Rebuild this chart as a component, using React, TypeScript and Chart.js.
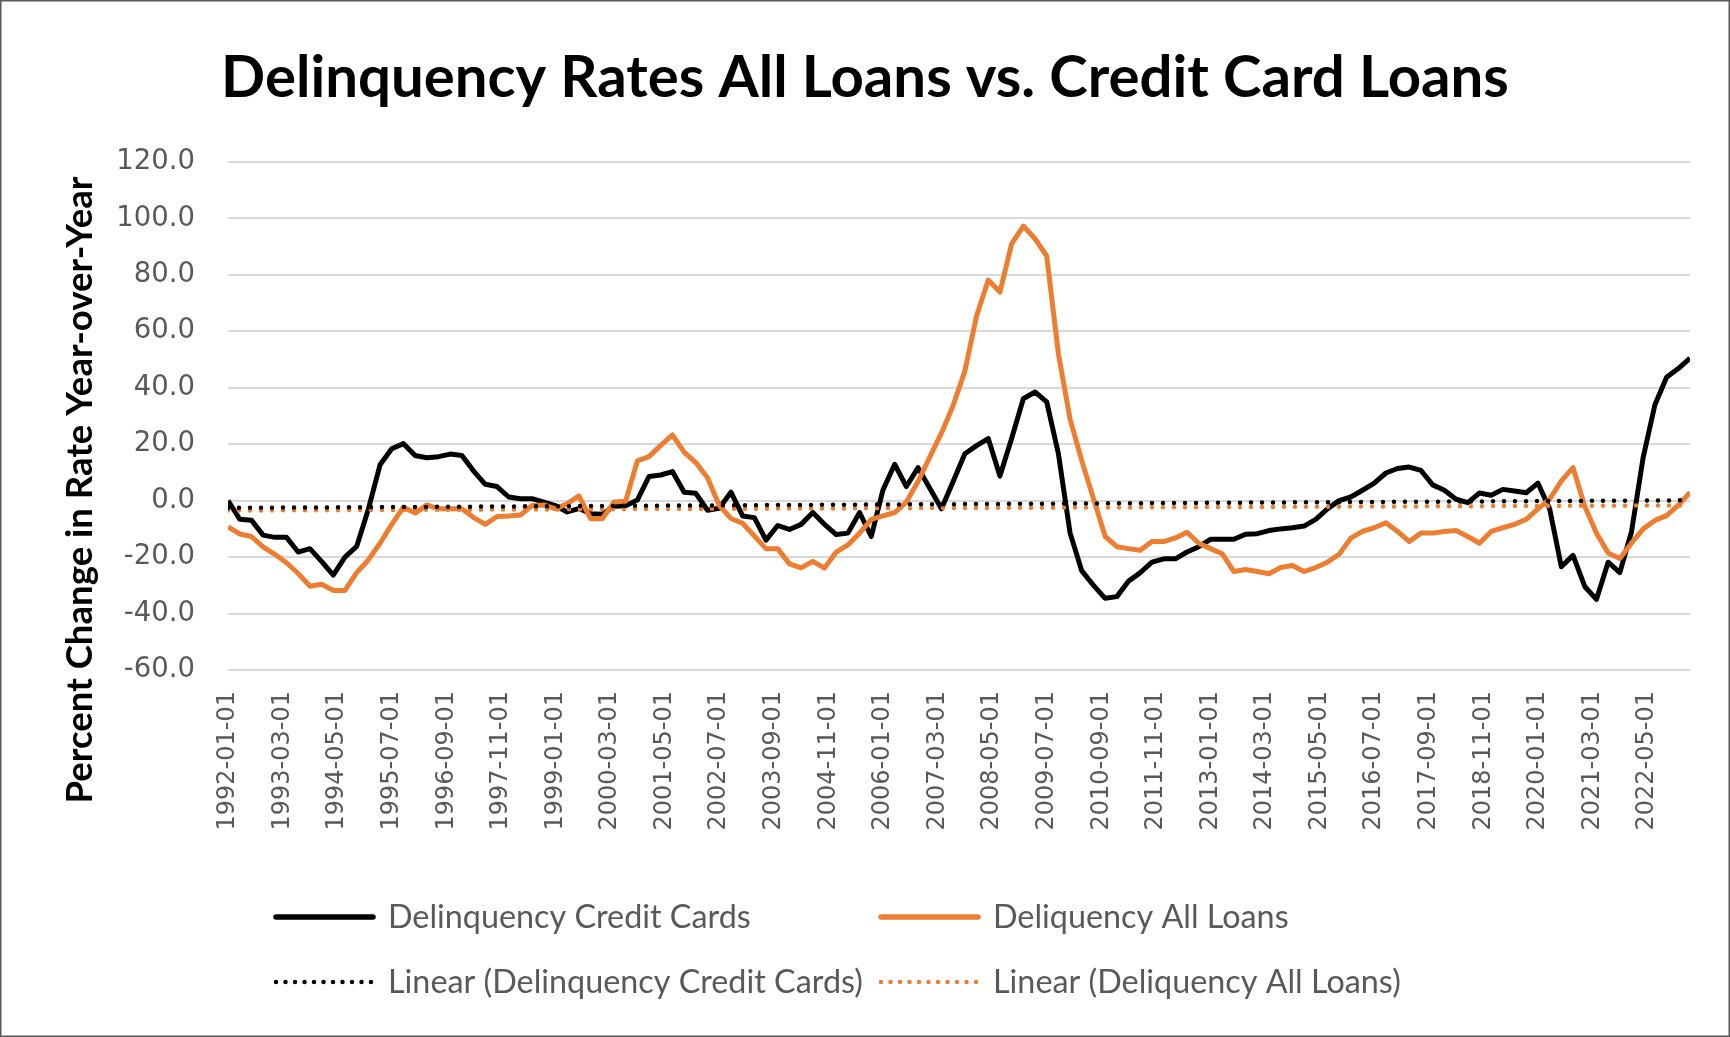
import React, { useEffect, useRef } from "react";
import { Chart, registerables } from "chart.js";

Chart.register(...registerables);

const TITLE = "Delinquency Rates All Loans vs. Credit Card Loans";
const Y_TITLE = "Percent Change in Rate Year-over-Year";
const FIRST_YEAR = 1992;
const MONTHS_PER_POINT = 3;

const seriesNames = ["Delinquency Credit Cards", "Deliquency All Loans"];
const trendNames = ["Linear (Delinquency Credit Cards)", "Linear (Deliquency All Loans)"];
const seriesColors = ["#000000", "#ED7D31"];

// Quarterly values, 1992-01-01 .. 2023-04-01
const creditCards = [
  0, -6.6, -6.9, -12.2, -13, -13, -18.2, -17, -21.5, -26.4,
  -20, -16.2, -3, 12.7, 18.4, 20.2, 16, 15.2, 15.6, 16.5,
  16, 10.5, 5.8, 5, 1.3, 0.7, 0.7, -0.5, -1.8, -4,
  -2.8, -4.6, -4.8, -2, -1.8, 0.2, 8.6, 9.1, 10.3, 3,
  2.6, -3.4, -2.7, 3, -5.4, -6, -14, -8.8, -10.2, -8.4,
  -4.2, -8.4, -12, -11.5, -4.2, -12.7, 3.8, 12.9, 5, 11.7,
  4.4, -2.9, 6.8, 16.6, 19.5, 22, 8.7, 22, 36.1, 38.5,
  35, 16.6, -11.5, -24.9, -30, -34.6, -34, -28.5, -25.5, -21.8,
  -20.6, -20.6, -18.2, -16.3, -13.7, -13.7, -13.7, -11.9, -11.7, -10.6,
  -10, -9.6, -9, -6.6, -2.9, 0, 1.3, 3.7, 6.2, 9.8,
  11.4, 11.9, 10.7, 5.6, 3.7, 0.5, -0.7, 2.7, 1.9, 4,
  3.4, 2.8, 6.2, -2.9, -23.4, -19.4, -30.4, -35, -21.8, -25.5,
  -11, 15.4, 34, 43.7, 46.8, 50.5,
];

const allLoans = [
  -9.3, -11.8, -12.7, -16.4, -19, -22, -25.8, -30.3, -29.6, -31.8,
  -31.8, -25.5, -21, -15.1, -8.4, -2.3, -4.4, -1.5, -2.9, -2.9,
  -2.9, -6, -8.4, -5.6, -5.4, -5.1, -1.7, -1.5, -2.9, -1.1,
  1.7, -6.4, -6.4, -0.5, -0.2, 14.1, 15.6, 19.6, 23.3, 17.2,
  13.5, 8.1, -1.7, -6.3, -8, -12.5, -17, -17, -22.4, -23.8,
  -21.5, -23.9, -18.2, -15.7, -11.5, -6.6, -5.4, -4.2, -0.5, 6.8,
  15.4, 23.9, 33.7, 45.9, 65.4, 78.2, 73.9, 91, 97.3, 92.8,
  86.7, 52, 28.8, 14.1, 0.7, -12.7, -16.3, -17, -17.6, -14.5,
  -14.5, -13.2, -11.2, -15.1, -17, -18.8, -25.1, -24.4, -25.1, -25.9,
  -23.7, -23, -25.1, -23.7, -21.8, -19, -13.3, -10.9, -9.6, -7.8,
  -10.9, -14.5, -11.5, -11.5, -10.9, -10.6, -12.7, -15.1, -10.9, -9.6,
  -8.4, -6.6, -2.9, 0.5, 7, 11.7, -2, -11.5, -18.5, -20.5,
  -15, -10, -7, -5.3, -1.6, 2.9,
];

const xTickLabels = [
  "1992-01-01", "1993-03-01", "1994-05-01", "1995-07-01", "1996-09-01",
  "1997-11-01", "1999-01-01", "2000-03-01", "2001-05-01", "2002-07-01",
  "2003-09-01", "2004-11-01", "2006-01-01", "2007-03-01", "2008-05-01",
  "2009-07-01", "2010-09-01", "2011-11-01", "2013-01-01", "2014-03-01",
  "2015-05-01", "2016-07-01", "2017-09-01", "2018-11-01", "2020-01-01",
  "2021-03-01", "2022-05-01",
];

const yTickValues = [120, 100, 80, 60, 40, 20, 0, -20, -40, -60];

const monthOf = (label: string) => {
  const [y, m] = label.split("-").map(Number);
  return (y - FIRST_YEAR) * 12 + (m - 1);
};

const toPoints = (vals: number[]) => vals.map((v, i) => ({ x: i * MONTHS_PER_POINT, y: v }));

const trendPoints = (vals: number[]) => {
  const n = vals.length;
  let sx = 0, sy = 0, sxx = 0, sxy = 0;
  vals.forEach((v, i) => { sx += i; sy += v; sxx += i * i; sxy += i * v; });
  const m = (n * sxy - sx * sy) / (n * sxx - sx * sx);
  const b = (sy - m * sx) / n;
  return [
    { x: 0, y: b },
    { x: (n - 1) * MONTHS_PER_POINT, y: b + m * (n - 1) },
  ];
};

const CALIBRI_LIKE = "Lato, 'Open Sans', sans-serif";
const VERDANA_LIKE = "'DejaVu Sans', Verdana, sans-serif";

function fitFont(ctx: CanvasRenderingContext2D, text: string, target: number, weight: string, family: string) {
  ctx.font = `${weight} 100px ${family}`;
  const w = ctx.measureText(text).width;
  const size = (100 * target) / w;
  ctx.font = `${weight} ${size.toFixed(2)}px ${family}`;
  return size;
}

const decorPlugin = {
  id: "decor",
  afterDraw(chart: any) {
    const ctx: CanvasRenderingContext2D = chart.ctx;
    const W = chart.width;
    const H = chart.height;
    ctx.save();
    // outer border
    ctx.strokeStyle = "#595959";
    ctx.lineWidth = 1.5;
    ctx.strokeRect(0.75, 0.75, W - 1.5, H - 1.5);

    // title
    ctx.fillStyle = "#000000";
    ctx.textAlign = "center";
    ctx.textBaseline = "middle";
    fitFont(ctx, TITLE, 1288, "bold", CALIBRI_LIKE);
    ctx.fillText(TITLE, W / 2, 78);

    // y axis title
    ctx.save();
    ctx.translate(80, 490);
    ctx.rotate(-Math.PI / 2);
    fitFont(ctx, Y_TITLE, 627, "bold", CALIBRI_LIKE);
    ctx.fillText(Y_TITLE, 0, 0);
    ctx.restore();

    // legend (2 x 2 grid)
    ctx.textAlign = "left";
    const legendSize = fitFont(ctx, seriesNames[0], 363, "normal", CALIBRI_LIKE);
    ctx.font = `normal ${legendSize.toFixed(2)}px ${CALIBRI_LIKE}`;
    const cols = [274, 879];
    const rows = [917, 982];
    const items = [
      { text: seriesNames[0], color: seriesColors[0], dotted: false, col: 0, row: 0 },
      { text: seriesNames[1], color: seriesColors[1], dotted: false, col: 1, row: 0 },
      { text: trendNames[0], color: seriesColors[0], dotted: true, col: 0, row: 1 },
      { text: trendNames[1], color: seriesColors[1], dotted: true, col: 1, row: 1 },
    ];
    items.forEach((it) => {
      const x0 = cols[it.col];
      const y = rows[it.row];
      ctx.beginPath();
      ctx.strokeStyle = it.color;
      ctx.lineCap = "round";
      if (it.dotted) {
        ctx.lineWidth = 4.5;
        ctx.setLineDash([0, 9.5]);
      } else {
        ctx.lineWidth = 5.5;
        ctx.setLineDash([]);
      }
      ctx.moveTo(x0 + 2, y);
      ctx.lineTo(x0 + 99, y);
      ctx.stroke();
      ctx.setLineDash([]);
      ctx.fillStyle = "#595959";
      ctx.fillText(it.text, x0 + 114, y + 1);
    });
    ctx.restore();
  },
};

export default function App() {
  const ref = useRef<HTMLCanvasElement | null>(null);

  useEffect(() => {
    document.body.style.margin = "0";
    const canvas = ref.current;
    if (!canvas) return;
    const lastX = (creditCards.length - 1) * MONTHS_PER_POINT;
    const chart = new Chart(canvas, {
      type: "line",
      data: {
        datasets: [
          {
            label: trendNames[0],
            data: trendPoints(creditCards),
            borderColor: seriesColors[0],
            borderWidth: 4.5,
            borderDash: [0, 11],
            borderCapStyle: "round",
            pointRadius: 0,
            order: 1,
          },
          {
            label: trendNames[1],
            data: trendPoints(allLoans),
            borderColor: seriesColors[1],
            borderWidth: 4.5,
            borderDash: [0, 11],
            borderCapStyle: "round",
            pointRadius: 0,
            order: 2,
          },
          {
            label: seriesNames[1],
            data: toPoints(allLoans),
            borderColor: seriesColors[1],
            borderWidth: 5,
            pointRadius: 0,
            borderJoinStyle: "round",
            tension: 0,
            order: 3,
          },
          {
            label: seriesNames[0],
            data: toPoints(creditCards),
            borderColor: seriesColors[0],
            borderWidth: 5,
            pointRadius: 0,
            borderJoinStyle: "round",
            tension: 0,
            order: 4,
          },
        ],
      },
      options: {
        responsive: false,
        animation: false,
        devicePixelRatio: 1,
        layout: { padding: { top: 162, right: 40, bottom: 167, left: 0 } },
        plugins: {
          legend: { display: false },
          title: { display: false },
          tooltip: { enabled: false },
        },
        scales: {
          x: {
            type: "linear",
            min: 0,
            max: lastX,
            grid: { display: false },
            border: { display: false },
            afterBuildTicks: (s: any) => {
              s.ticks = xTickLabels.map((l) => ({ value: monthOf(l) }));
            },
            afterFit: (s: any) => {
              s.height = 200;
            },
            ticks: {
              autoSkip: false,
              maxRotation: 90,
              minRotation: 90,
              padding: 13,
              color: "#595959",
              font: { family: VERDANA_LIKE, size: 24 },
              callback: (v: any) => {
                const found = xTickLabels.find((l) => monthOf(l) === v);
                return found ?? "";
              },
            },
          },
          y: {
            min: -60,
            max: 120,
            afterBuildTicks: (s: any) => {
              s.ticks = yTickValues.map((v) => ({ value: v }));
            },
            afterFit: (s: any) => {
              s.width = 228;
            },
            grid: { color: "#D9D9D9", lineWidth: 2, drawTicks: false },
            border: { display: false },
            ticks: {
              padding: 33,
              color: "#595959",
              font: { family: VERDANA_LIKE, size: 27.5 },
              callback: (v: any) => Number(v).toFixed(1),
            },
          },
        },
      },
      plugins: [decorPlugin],
    });
    return () => chart.destroy();
  }, []);

  return (
    <div style={{ position: "absolute", left: 0, top: 0, width: 1730, height: 1037, background: "#ffffff" }}>
      <canvas ref={ref} width={1730} height={1037} />
    </div>
  );
}
